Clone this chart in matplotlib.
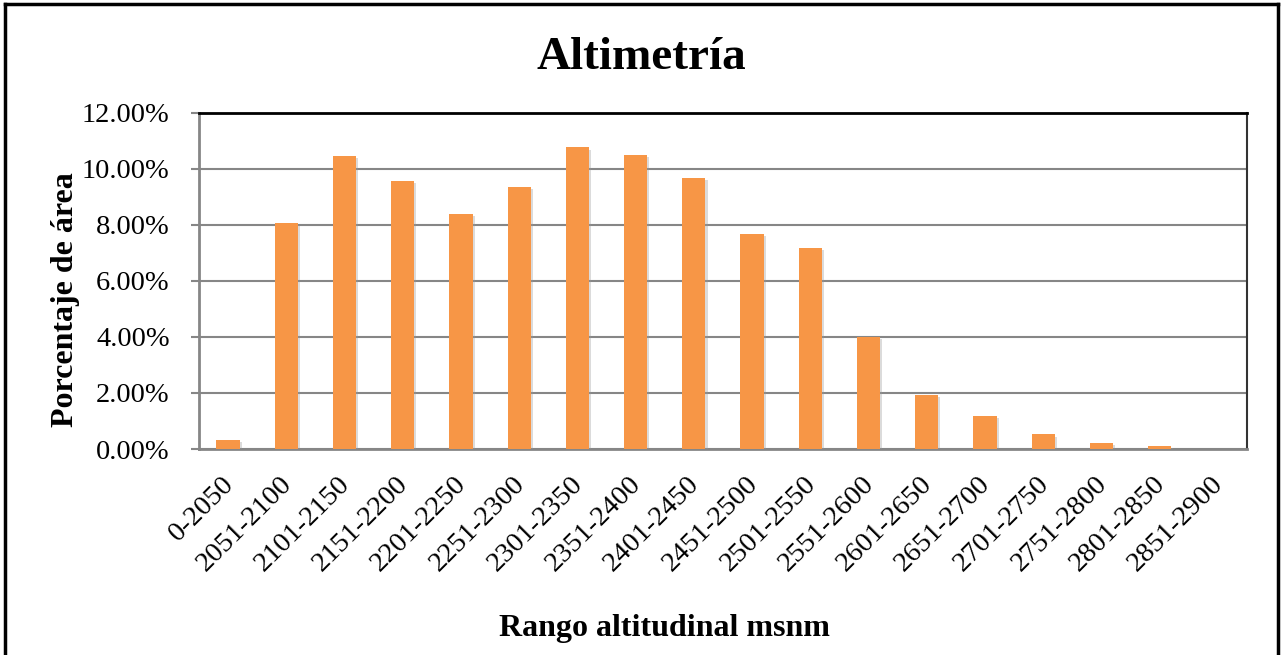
import matplotlib.pyplot as plt
import matplotlib.patheffects as pe
import matplotlib.transforms as mtransforms
from matplotlib.lines import Line2D
from matplotlib.ticker import FuncFormatter

rangos = ['0-2050', '2051-2100', '2101-2150', '2151-2200', '2201-2250', '2251-2300',
          '2301-2350', '2351-2400', '2401-2450', '2451-2500', '2501-2550', '2551-2600',
          '2601-2650', '2651-2700', '2701-2750', '2751-2800', '2801-2850', '2851-2900']
porcentaje = [0.32, 8.07, 10.46, 9.57, 8.40, 9.36, 10.77, 10.50, 9.67, 7.67, 7.18, 3.99,
              1.92, 1.19, 0.52, 0.23, 0.12, 0.0]
yticks = [0, 2, 4, 6, 8, 10, 12]

plt.rcParams['font.family'] = ['Liberation Serif', 'DejaVu Serif']

fig = plt.figure(figsize=(12.81, 6.55), dpi=100)
ax = fig.add_axes([0.1553, 0.3145, 0.8181, 0.513])

gris = '#868686'
x = range(len(rangos))
barras = ax.bar(x, porcentaje, width=0.4, color='#F79646', zorder=3)
for b in barras:
    b.set_path_effects([pe.SimplePatchShadow(offset=(1.5, -1.5), shadow_rgbFace='#999999', alpha=0.35),
                        pe.Normal()])

ax.set_xlim(-0.5, len(rangos) - 0.5)
ax.set_ylim(0, 12)
ax.set_yticks(yticks)
ax.yaxis.set_major_formatter(FuncFormatter(lambda v, p: '%.2f%%' % v))
ax.grid(axis='y', color=gris, linewidth=1.5, zorder=0)
ax.set_axisbelow(True)

ax.set_xticks(list(x))
ax.set_xticklabels(rangos, rotation=45, ha='right', rotation_mode='anchor', fontsize=20.5)
ax.tick_params(axis='x', length=0, pad=16)
ax.tick_params(axis='y', length=6, width=1.5, color=gris, labelsize=20.5, pad=15)

# desplazar un poco las etiquetas del eje x hacia la izquierda
desp = mtransforms.ScaledTranslation(-7 / 100, 0, fig.dpi_scale_trans)
for lbl in ax.get_xticklabels():
    lbl.set_transform(lbl.get_transform() + desp)

for s in ['left', 'bottom']:
    ax.spines[s].set_color(gris)
    ax.spines[s].set_linewidth(2)
ax.spines['top'].set_color('black')
ax.spines['top'].set_linewidth(2)
ax.spines['right'].set_color('#333333')
ax.spines['right'].set_linewidth(1.5)

fig.text(0.5 + 0.001, 0.912, 'Altimetría', ha='center', va='center', fontsize=34, fontweight='bold')
fig.text(0.519, 0.040, 'Rango altitudinal msnm', ha='center', va='center', fontsize=23, fontweight='bold')
fig.text(0.051, 0.543, 'Porcentaje de área', ha='center', va='center', rotation=90,
         fontsize=23, fontweight='bold')

# marco exterior del gráfico
x0, x1 = 5 / 1281, 1278 / 1281
y1 = 1 - 4 / 655
for xs, ys in [([x0, x0], [0, y1]), ([x0, x1], [y1, y1]), ([x1, x1], [y1, 0])]:
    fig.add_artist(Line2D(xs, ys, color='black', linewidth=2.5, transform=fig.transFigure))

fig.savefig('out.png', dpi=100)
